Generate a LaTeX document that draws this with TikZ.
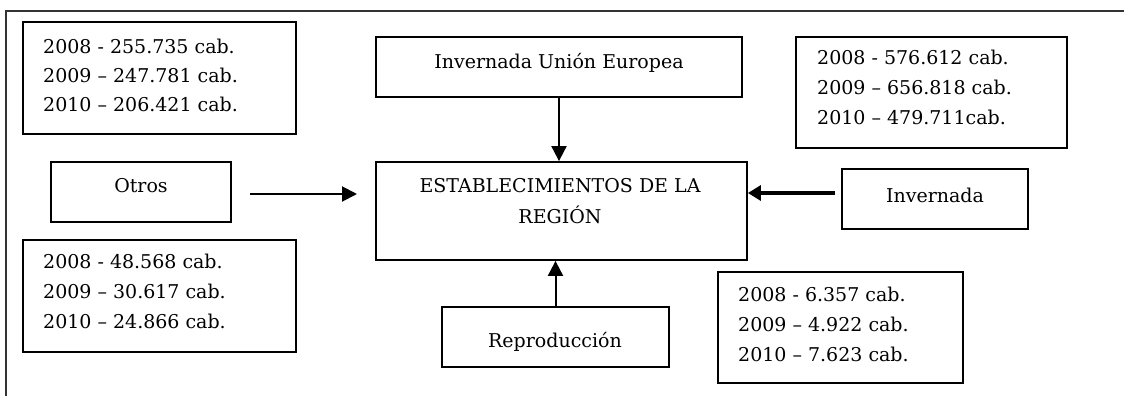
\documentclass[tikz,border=0pt]{standalone}
\usepackage{fontspec}
\setmainfont{DejaVu Serif}
\usetikzlibrary{arrows.meta}
\begin{document}
\begin{tikzpicture}[x=1pt,y=-1pt,
  box/.style={draw=black, line width=1.8pt, inner sep=0pt, rectangle},
  txt/.style={inner sep=0pt, anchor=base, font=\fontsize{19}{29}\selectfont},
  ltxt/.style={inner sep=0pt, anchor=base west, font=\fontsize{19}{29}\selectfont},
  arr/.style={line width=2pt, -{Triangle[length=15pt,width=15pt]}},
  arrthick/.style={line width=4pt, -{Triangle[length=13pt,width=15pt]}},
  frame/.style={draw=black!80, line width=1.6pt}]
\useasboundingbox (0,0) rectangle (1124,396);
\draw[frame] (6,396) -- (6,11) -- (1124,11);
% boxes
\node[box, minimum width=273pt, minimum height=112pt] (ta) at (159.5,78) {};
\node[box, minimum width=180pt, minimum height=60pt] (otros) at (141,192) {};
\node[box, minimum width=273pt, minimum height=112pt] (tb) at (159.5,296) {};
\node[box, minimum width=366pt, minimum height=60pt] (iue) at (559,67) {};
\node[box, minimum width=371pt, minimum height=98pt] (main) at (561.5,211) {};
\node[box, minimum width=271pt, minimum height=111pt] (tc) at (931.5,92.5) {};
\node[box, minimum width=186pt, minimum height=60pt] (inv) at (935,199) {};
\node[box, minimum width=227pt, minimum height=60pt] (rep) at (555.5,337) {};
\node[box, minimum width=245pt, minimum height=111pt] (td) at (840.5,327.5) {};
% texts
\node[txt] (otrost) at (141,192) {Otros};
\node[txt] (iuet) at (559,68) {Invernada Unión Europea};
\node[txt] (main1) at (560,192) {ESTABLECIMIENTOS DE LA};
\node[txt] (main2) at (560,223) {REGIÓN};
\node[txt] (invt) at (935,202) {Invernada};
\node[txt] (rept) at (555,347) {Reproducción};
\node[ltxt] (ta1) at (43,53) {2008 - 255.735 cab.};
\node[ltxt] (ta2) at (43,82) {2009 – 247.781 cab.};
\node[ltxt] (ta3) at (43,111) {2010 – 206.421 cab.};
\node[ltxt] (tb1) at (43,268) {2008 - 48.568 cab.};
\node[ltxt] (tb2) at (43,298) {2009 – 30.617 cab.};
\node[ltxt] (tb3) at (43,328) {2010 – 24.866 cab.};
\node[ltxt] (tc1) at (817,64) {2008 - 576.612 cab.};
\node[ltxt] (tc2) at (817,94) {2009 – 656.818 cab.};
\node[ltxt] (tc3) at (817,124) {2010 – 479.711cab.};
\node[ltxt] (td1) at (738,301) {2008 - 6.357 cab.};
\node[ltxt] (td2) at (738,331) {2009 – 4.922 cab.};
\node[ltxt] (td3) at (738,361) {2010 – 7.623 cab.};
% connectors
\draw[arr] (iue.south) -- (iue.south |- main.north);
\draw[arr] (rep.north) -- (rep.north |- main.south);
\coordinate (o1) at (250,194);
\coordinate (o2) at (357,194);
\draw[arr] (o1) -- (o2);
\coordinate (i1) at (835,193);
\draw[arrthick] (i1) -- (main.east |- i1);
\end{tikzpicture}
\end{document}
